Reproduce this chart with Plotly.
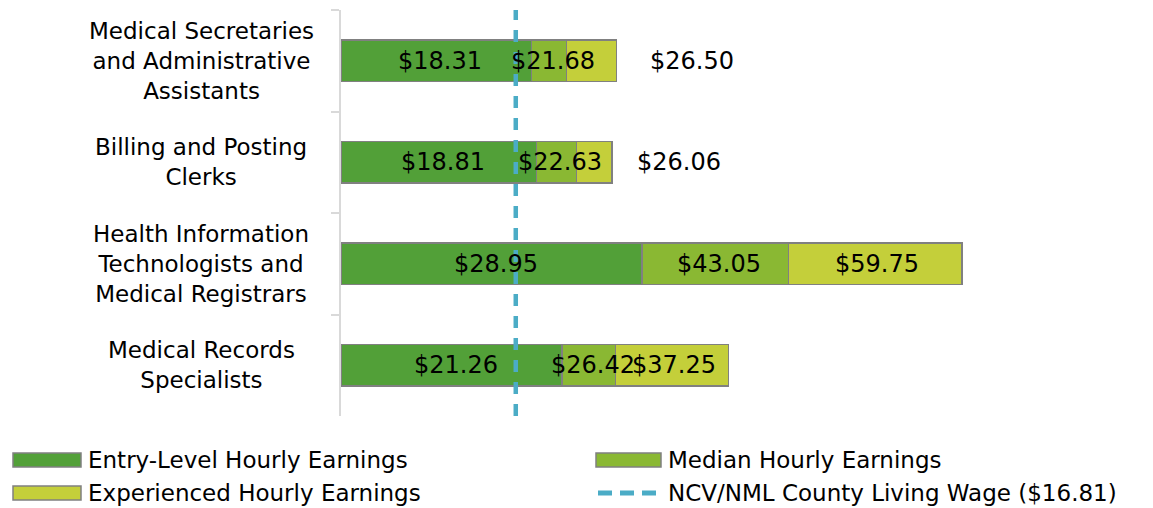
import plotly.graph_objects as go

categories = ["Medical Secretaries<br>and Administrative<br>Assistants",
              "Billing and Posting<br>Clerks",
              "Health Information<br>Technologists and<br>Medical Registrars",
              "Medical Records<br>Specialists"]
entry = [18.31, 18.81, 28.95, 21.26]
median = [21.68, 22.63, 43.05, 26.42]
experienced = [26.50, 26.06, 59.75, 37.25]
living_wage = 16.81

series_names = ["Entry-Level Hourly Earnings", "Median Hourly Earnings",
                "Experienced Hourly Earnings", "NCV/NML County Living Wage ($16.81)"]
colors = ["#52A038", "#8AB833", "#C4CF3A"]
line_color = "#4BACC6"
outline = "#808080"
FONT = "DejaVu Sans"
FS = 23      # category / legend text
FSV = 24     # value labels

W, H = 1153, 508
ML, MR, MT, MB = 341, 0, 10, 92
xmax = 78.1

fig = go.Figure()
med_inc = [m - e for m, e in zip(median, entry)]
exp_inc = [x - m for x, m in zip(experienced, median)]
for name, vals, c in zip(series_names[:3], [entry, med_inc, exp_inc], colors):
    fig.add_trace(go.Bar(y=categories, x=vals, orientation="h", name=name,
                         marker=dict(color=c, line=dict(color=outline, width=1.5)),
                         width=0.41, textposition="none", showlegend=False,
                         hoverinfo="x+name"))

fig.add_shape(type="line", xref="x", yref="paper", x0=living_wage, x1=living_wage,
              y0=0, y1=1, line=dict(color=line_color, width=4.5, dash="12px,10px"))

ann = []
# category labels (centered lines)
for c in categories:
    ann.append(dict(x=(201 - ML) / (W - ML - MR), xref="paper", y=c, yref="y",
                    text=c, showarrow=False, xanchor="center", yanchor="middle",
                    align="center", font=dict(size=FS, color="black", family=FONT)))
# value labels
vfont = dict(size=FSV, color="black", family=FONT)
outside_shift = {0: 31, 1: 23}
for i, c in enumerate(categories):
    ann.append(dict(x=entry[i] / 2, y=c, text=f"${entry[i]:.2f}", showarrow=False,
                    xanchor="center", xshift=4, font=vfont))
    ann.append(dict(x=(entry[i] + median[i]) / 2, y=c, text=f"${median[i]:.2f}",
                    showarrow=False, xanchor="center", xshift=4, font=vfont))
    if i in outside_shift:
        ann.append(dict(x=experienced[i], y=c, text=f"${experienced[i]:.2f}",
                        showarrow=False, xanchor="left", xshift=outside_shift[i],
                        font=vfont))
    else:
        ann.append(dict(x=(median[i] + experienced[i]) / 2, y=c,
                        text=f"${experienced[i]:.2f}", showarrow=False, xanchor="center",
                        xshift=2, font=vfont))

# custom legend
pw = W - ML - MR
ph = H - MT - MB
def px_x(p):
    return (p - ML) / pw
def px_y(p):
    return (H - MB - p) / ph

legend_items = [(13, 81, 460, 0), (596, 661, 460, 1), (13, 81, 493, 2), (596, 661, 493, 3)]
shapes = []
for x0, x1, yc, k in legend_items:
    if k < 3:
        shapes.append(dict(type="rect", xref="paper", yref="paper",
                           x0=px_x(x0), x1=px_x(x1), y0=px_y(yc + 7), y1=px_y(yc - 7),
                           fillcolor=colors[k], line=dict(color=outline, width=1.5)))
    else:
        shapes.append(dict(type="line", xref="paper", yref="paper",
                           x0=px_x(x0 + 2), x1=px_x(x1), y0=px_y(yc), y1=px_y(yc),
                           line=dict(color=line_color, width=5, dash="14px,8px")))
    ann.append(dict(x=px_x(x1 + 5), xref="paper", y=px_y(yc), yref="paper",
                    text=series_names[k], showarrow=False, xanchor="left",
                    yanchor="middle", font=dict(size=FS, color="black", family=FONT)))

for s in shapes:
    fig.add_shape(**s)

fig.update_layout(
    width=W, height=H, barmode="stack", bargap=0.59,
    margin=dict(l=ML, r=MR, t=MT, b=MB),
    plot_bgcolor="white", paper_bgcolor="white",
    font=dict(family=FONT, size=FS, color="black"),
    annotations=ann, showlegend=False,
    xaxis=dict(range=[0, xmax], visible=False, fixedrange=True),
    yaxis=dict(autorange="reversed", showticklabels=False, tickson="boundaries",
               ticks="outside", ticklen=8, tickcolor="#D9D9D9", tickwidth=1.5,
               showline=True, linecolor="#D9D9D9", linewidth=1.5, showgrid=False,
               fixedrange=True),
)

fig.write_html("out.html")
